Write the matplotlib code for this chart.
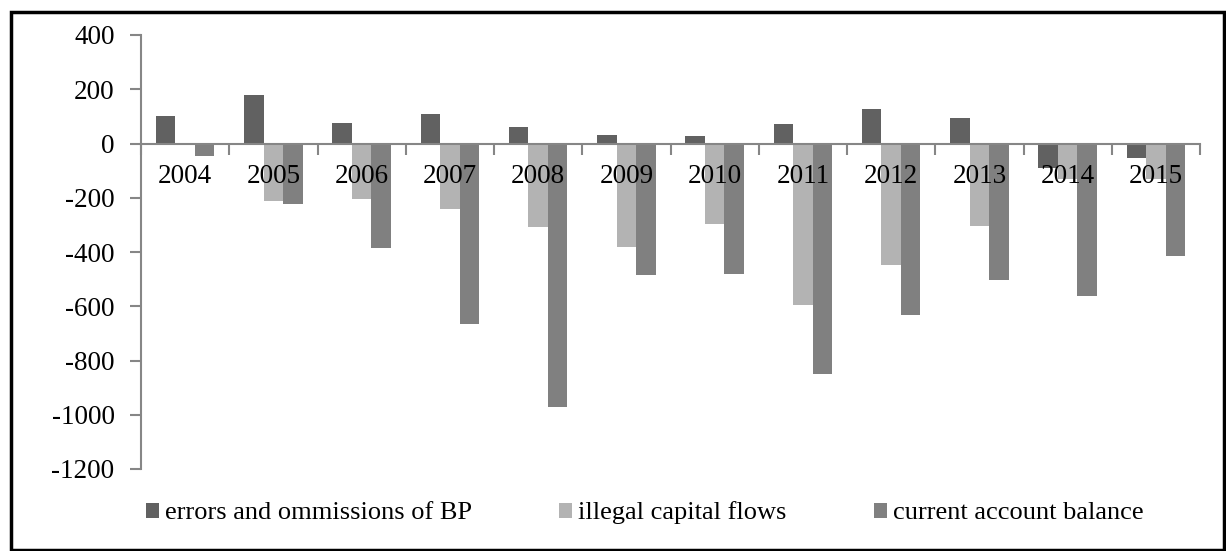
import matplotlib
matplotlib.use("Agg")
import matplotlib.pyplot as plt
import numpy as np
from matplotlib.patches import Rectangle

years = ["2004", "2005", "2006", "2007", "2008", "2009", "2010", "2011", "2012", "2013", "2014", "2015"]
errors_omissions = [100, 177, 76, 107, 60, 32, 28, 72, 128, 95, -91, -53]
illegal_flows = [0, -212, -205, -242, -308, -380, -297, -594, -447, -303, -130, -130]
current_account = [-45, -224, -385, -667, -970, -483, -480, -848, -633, -504, -562, -415]

series_names = ["errors and ommissions of BP", "illegal capital flows", "current account balance"]
colors = ["#616161", "#b3b3b3", "#808080"]

plt.rcParams['font.family'] = ['Liberation Serif', 'DejaVu Serif']
plt.rcParams['axes.unicode_minus'] = False

W, H = 1226, 551
fig = plt.figure(figsize=(W / 100, H / 100), dpi=100)
ax = fig.add_axes([141 / W, 1 - 469 / H, (1200 - 141) / W, (469 - 35) / H])

x = np.arange(len(years))
w = 0.221
handles = []
for k, (vals, c) in enumerate(zip([errors_omissions, illegal_flows, current_account], colors)):
    b = ax.bar(x + (k - 1) * w, vals, width=w, color=c, edgecolor='none', label=series_names[k], zorder=2)
    handles.append(b)

ax.set_xlim(-0.5, len(years) - 0.5)
ax.set_ylim(-1200, 400)
ax.set_yticks(np.arange(-1200, 401, 200))
axis_col = "#868686"
for s in ['top', 'right']:
    ax.spines[s].set_visible(False)
ax.spines['left'].set_color(axis_col)
ax.spines['left'].set_linewidth(1.5)
ax.spines['bottom'].set_position(('data', 0))
ax.spines['bottom'].set_color(axis_col)
ax.spines['bottom'].set_linewidth(1.5)
ax.spines['bottom'].set_zorder(3)

fs = 19
ax.tick_params(axis='y', direction='out', length=8, width=1.5, color=axis_col, labelsize=fs + 0.5, pad=11)
ax.set_xticks(x)
ax.set_xticklabels(years)
ax.tick_params(axis='x', which='major', length=0, labelsize=fs + 0.5, pad=15)
ax.set_xticks(np.arange(-0.5, len(years)), minor=True)
ax.tick_params(axis='x', which='minor', direction='out', length=8, width=1.5, color=axis_col)
ax.xaxis.set_zorder(5)

fig.legend(handles=handles, labels=series_names, loc='center left', bbox_to_anchor=(146 / W, 1 - 513 / H),
           ncol=3, frameon=False, fontsize=fs, handlelength=0.5, handleheight=0.5,
           handletextpad=0.22, columnspacing=3.3, borderpad=0, borderaxespad=0)

fig.patches.append(Rectangle((11 / W, 0.001), (1224 - 11) / W, 1 - 12.5 / H - 0.001, transform=fig.transFigure,
                             fill=False, edgecolor='black', linewidth=2.5, zorder=10))

fig.savefig("out.png", dpi=100)
